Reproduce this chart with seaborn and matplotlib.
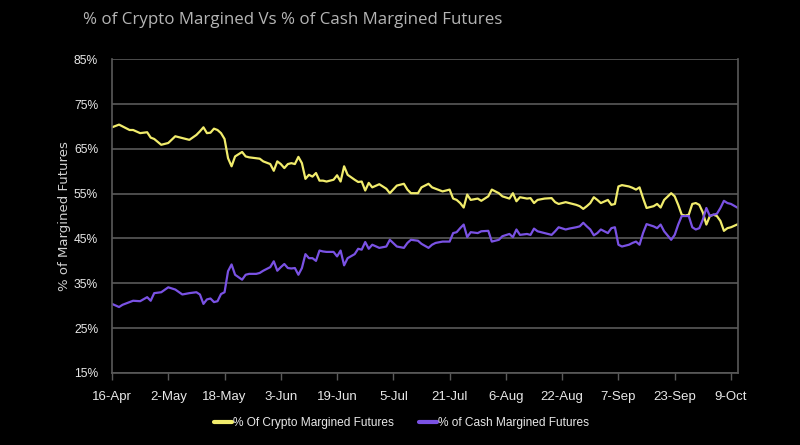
import seaborn as sns
import numpy as np
import matplotlib.pyplot as plt
import pandas as pd
import matplotlib.dates as mdates

# day offsets from 16-Apr and the two shares
days = [0, 2, 3, 5, 6, 8, 10, 11, 12, 14, 16, 18, 20, 22, 24, 25, 26, 27, 28, 29,
        30, 31, 32, 33, 34, 35, 37, 38, 39, 41, 42, 43, 45, 46, 47, 48, 49, 50, 51, 52,
        53, 54, 55, 56, 57, 58, 59, 60, 61, 63, 64, 65, 66, 67, 69, 70, 71, 72, 73, 74,
        76, 78, 79, 81, 83, 84, 85, 87, 88, 90, 91, 92, 94, 96, 97, 98, 99, 100, 101, 102,
        104, 105, 107, 108, 110, 111, 113, 114, 115, 116, 118, 119, 120, 121, 123, 125, 126, 127, 129, 130,
        132, 133, 134, 135, 136, 137, 138, 139, 141, 142, 143, 144, 145, 147, 148, 149, 150, 151, 152, 154,
        155, 156, 157, 159, 160, 161, 162, 163, 164, 165, 166, 167, 168, 169, 170, 171, 172, 173, 174, 175,
        176, 178]
crypto = [69.8, 70.4, 70.0, 69.2, 69.2, 68.5, 68.7, 67.5, 67.2, 65.9, 66.3, 67.8, 67.4, 67.0, 68.1, 68.9, 69.8, 68.5, 68.6, 69.5,
          69.2, 68.5, 67.2, 62.9, 61.1, 63.3, 64.3, 63.3, 63.1, 62.9, 62.8, 62.2, 61.6, 60.1, 62.2, 61.6, 60.7, 61.6, 61.8, 61.6,
          63.2, 61.8, 58.3, 59.2, 58.8, 59.6, 57.9, 57.9, 57.7, 58.1, 59.1, 57.7, 61.1, 59.2, 58.1, 57.6, 57.7, 55.7, 57.4, 56.4,
          57.1, 56.1, 55.1, 56.8, 57.2, 55.9, 55.1, 55.1, 56.4, 57.2, 56.4, 56.1, 55.5, 55.9, 53.9, 53.6, 52.9, 51.9, 54.8, 53.6,
          53.9, 53.4, 54.4, 55.9, 55.1, 54.4, 53.9, 55.1, 53.3, 54.2, 53.9, 54.0, 52.9, 53.6, 53.9, 54.0, 53.1, 52.7, 53.1, 52.9,
          52.5, 52.2, 51.6, 52.2, 52.9, 54.2, 53.6, 52.9, 53.6, 52.5, 52.7, 56.6, 56.9, 56.6, 56.3, 55.9, 56.4, 54.0, 51.8, 52.2,
          52.7, 51.9, 53.6, 55.1, 54.4, 52.5, 50.3, 50.1, 50.3, 52.7, 52.9, 52.5, 50.8, 48.1, 50.0, 50.3, 50.0, 48.9, 46.7, 47.3,
          47.5, 48.2]
cash = [30.4, 29.7, 30.2, 30.8, 31.1, 31.0, 31.9, 31.1, 32.8, 33.0, 34.1, 33.6, 32.5, 32.8, 33.0, 32.5, 30.4, 31.4, 31.6, 30.8,
        31.0, 32.6, 33.0, 37.7, 39.2, 36.9, 35.8, 36.9, 37.1, 37.1, 37.3, 37.8, 38.6, 39.9, 37.8, 38.6, 39.3, 38.4, 38.3, 38.4,
        36.9, 38.4, 41.5, 40.6, 40.6, 40.0, 42.3, 42.1, 42.0, 42.0, 41.0, 42.3, 39.0, 40.6, 41.5, 42.7, 42.5, 44.2, 42.7, 43.6,
        42.9, 43.2, 44.7, 43.2, 42.9, 44.0, 44.7, 44.5, 43.8, 42.9, 43.6, 44.0, 44.3, 44.3, 46.2, 46.4, 47.3, 48.1, 45.3, 46.4,
        46.2, 46.6, 46.7, 44.3, 44.7, 45.5, 46.0, 45.3, 47.0, 45.8, 46.0, 45.8, 47.2, 46.6, 46.2, 45.8, 46.6, 47.5, 47.0, 47.2,
        47.5, 47.7, 48.5, 47.7, 47.0, 45.7, 46.2, 47.0, 46.2, 47.3, 47.5, 43.6, 43.2, 43.6, 44.0, 44.3, 43.6, 46.2, 48.2, 47.7,
        47.3, 48.1, 46.6, 44.7, 45.8, 48.1, 50.0, 50.0, 50.0, 47.5, 47.0, 47.3, 49.2, 51.8, 50.0, 50.3, 50.5, 51.8, 53.4, 52.9,
        52.7, 51.8]

start = pd.Timestamp("2020-04-16")
dates = start + pd.to_timedelta(days, unit="D")
df = pd.DataFrame({"date": dates,
                   "% Of Crypto Margined Futures": crypto,
                   "% of Cash Margined Futures": cash})
long_df = df.melt(id_vars="date", var_name="series", value_name="pct")

yellow = "#f1ec6c"
purple = "#7a52e4"
grid_c = "#5a5a5a"

sns.set_style("dark")
plt.rcParams['font.family'] = ['Liberation Sans', 'DejaVu Sans']

fig = plt.figure(figsize=(8, 4.45), dpi=100, facecolor="black")
ax = fig.add_axes([0.14, 0.162, 0.7825, 0.705])
ax.set_facecolor("black")

sns.lineplot(data=long_df, x="date", y="pct", hue="series",
             palette=[yellow, purple], linewidth=1.6, ax=ax)

# axes look
ax.set_ylim(15, 85)
ax.set_yticks(np.arange(15, 86, 10))
ax.set_yticklabels([f"{v}%" for v in range(15, 86, 10)])
ax.set_xlim(start, start + pd.Timedelta(days=178))
ticks = [start + pd.Timedelta(days=16 * i) for i in range(12)]
ax.set_xticks(ticks)
ax.xaxis.set_major_formatter(mdates.DateFormatter("%-d-%b"))
ax.grid(axis="y", color=grid_c, linewidth=1.2)
ax.grid(axis="x", visible=False)
for side in ["left", "right", "bottom"]:
    ax.spines[side].set_visible(True)
    ax.spines[side].set_color(grid_c)
    ax.spines[side].set_linewidth(1.2)
ax.spines["top"].set_visible(False)
ax.tick_params(axis="x", colors="white", labelsize=9.5, length=5, width=1, color=grid_c, pad=8, bottom=True)
ax.tick_params(axis="y", colors="white", labelsize=8.7, length=0, pad=10)
for lab in ax.get_xticklabels() + ax.get_yticklabels():
    lab.set_color("#e8e8e8")
ax.set_xlabel("")
ax.set_ylabel("% of Margined Futures", color="#d0d0d0", fontsize=9.5,
              family=["DejaVu Sans"])
ax.yaxis.set_label_coords(-0.066, 0.5)

# legend at the bottom
leg = ax.legend(loc="center", bbox_to_anchor=(0.462, -0.16), ncol=2, frameon=False,
                fontsize=8.6, handlelength=1.5, handletextpad=0.1, columnspacing=2.1)
for t in leg.get_texts():
    t.set_color("#e8e8e8")
for h in leg.get_lines():
    h.set_linewidth(3)

# subtitle
fig.text(0.104, 0.955, "% of Crypto Margined Vs % of Cash Margined Futures",
         color="#b5b5b5", fontsize=12.2, family=["Open Sans", "DejaVu Sans"], va="center")

plt.savefig("out.png", dpi=100, facecolor="black")
